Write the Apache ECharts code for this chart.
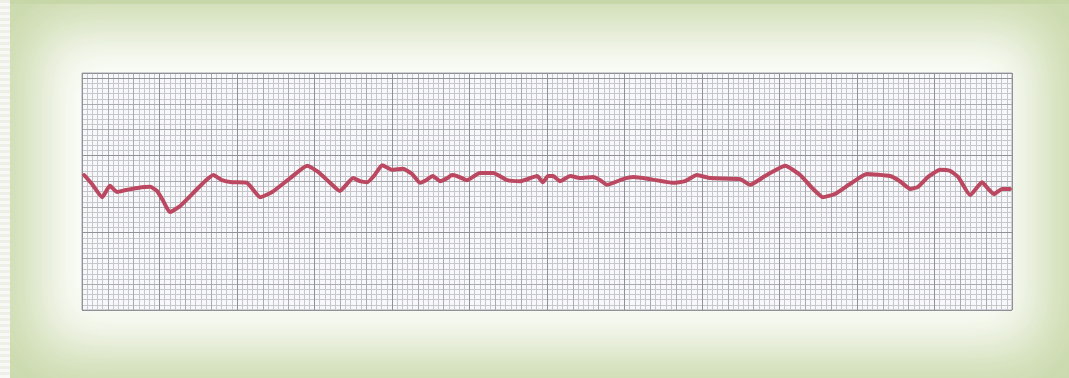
<!DOCTYPE html>
<html>
<head>
<meta charset="utf-8">
<script src="https://cdn.jsdelivr.net/npm/echarts@6/dist/echarts.min.js"></script>
<style>
  html, body { margin: 0; padding: 0; background: #ffffff; }
  #wrap {
    position: relative; width: 1069px; height: 378px; overflow: hidden;
    background: #ffffff;
  }
  #frame {
    position: absolute; left: 10px; top: 0; right: 0; bottom: 0;
    background: #fdfefb;
    box-shadow: inset 0 0 60px 28px rgba(198, 214, 165, 0.95), inset 0 4px 0 0 rgba(200,214,170,0.9);
  }
  #strip {
    position: absolute; left: 0; top: 0; width: 10px; height: 378px;
    background: repeating-linear-gradient(180deg, #eef0e8 0px, #eef0e8 3px, #f8f8f4 3px, #f8f8f4 6px);
  }
  #chart { position: absolute; left: 0; top: 0; width: 1069px; height: 378px; }
</style>
</head>
<body>
<div id="wrap">
  <div id="strip"></div>
  <div id="frame"></div>
  <div id="chart"></div>
</div>
<script>
// Time positions (grid units) and trace amplitude (grid units)
const traceX = [0.4, 1.9, 3.9, 5.4, 6.8, 8.5, 10.8, 13.2, 14.5, 15.7, 17.0, 19.0, 21.9, 23.8, 25.4, 27.1, 29.0, 31.9, 34.5, 36.8,
  40.3, 43.6, 45.7, 48.0, 49.9, 52.5, 53.8, 55.2, 56.5, 58.1, 60.0, 62.1, 63.9, 65.4, 66.6, 67.9, 69.3, 70.7, 71.6, 72.6,
  74.5, 77.0, 79.6, 82.3, 84.8, 88.1, 89.2, 90.2, 91.2, 92.5, 94.5, 96.4, 98.9, 100.3, 101.6, 104.7, 106.7, 109.9, 114.4, 116.7,
  119.0, 121.6, 127.4, 129.3, 132.2, 136.1, 139.0, 141.3, 143.4, 145.7, 148.7, 151.9, 156.4, 158.3, 160.3, 161.8, 163.7, 166.1, 168.0, 169.6,
  171.9, 174.2, 175.4, 176.5, 178.1, 179.6];
const traceY = [26.2, 24.5, 21.9, 24.1, 22.9, 23.3, 23.7, 23.9, 23.1, 21.2, 19.0, 20.2, 23.1, 25.0, 26.2, 25.2, 24.8, 24.7, 21.9, 22.9,
  25.6, 28.0, 26.8, 24.7, 23.1, 25.6, 25.0, 24.8, 26.0, 28.1, 27.2, 27.4, 26.4, 24.7, 25.2, 26.0, 25.0, 25.6, 26.2, 26.0,
  25.2, 26.6, 26.6, 25.2, 25.0, 26.0, 24.8, 26.0, 26.0, 25.0, 26.0, 25.6, 25.8, 25.2, 24.3, 25.4, 25.8, 25.4, 24.7, 25.0,
  26.2, 25.6, 25.4, 24.3, 26.0, 28.0, 26.2, 23.7, 21.9, 22.5, 24.5, 26.4, 26.0, 25.0, 23.5, 23.9, 25.8, 27.2, 27.0, 25.8,
  22.3, 24.8, 23.5, 22.5, 23.5, 23.5];

const X_MAX = 180, Y_MAX = 46;
const points = traceX.map((x, i) => [x, traceY[i]]);

function gridAxis(max, interval, color, idx) {
  return {
    type: 'value', min: 0, max: max, interval: interval,
    axisLine: { show: false }, axisTick: { show: false }, axisLabel: { show: false },
    splitLine: { show: true, lineStyle: { color: color, width: 1 } },
    gridIndex: 0, z: idx
  };
}

const chart = echarts.init(document.getElementById('chart'), null, { renderer: 'canvas' });
chart.setOption({
  backgroundColor: 'transparent',
  animation: false,
  grid: { left: 82, top: 73, width: 930, height: 237, show: true, backgroundColor: '#f8f8fa', borderColor: '#a8a8b0', borderWidth: 1 },
  xAxis: [
    gridAxis(X_MAX, 1, '#c6c6cd', 0),
    gridAxis(X_MAX, 5, '#aaaab2', 1),
    gridAxis(X_MAX, 15, '#909098', 2)
  ],
  yAxis: [
    gridAxis(Y_MAX, 1, '#c6c6cd', 0),
    gridAxis(Y_MAX, 5, '#aaaab2', 1),
    gridAxis(Y_MAX, 15, '#909098', 2)
  ],
  series: [{
    type: 'line', xAxisIndex: 0, yAxisIndex: 0,
    data: points, showSymbol: false, smooth: 0.15,
    lineStyle: { color: '#bb4860', width: 4, cap: 'round', join: 'round' },
    z: 10
  }]
});
</script>
</body>
</html>
